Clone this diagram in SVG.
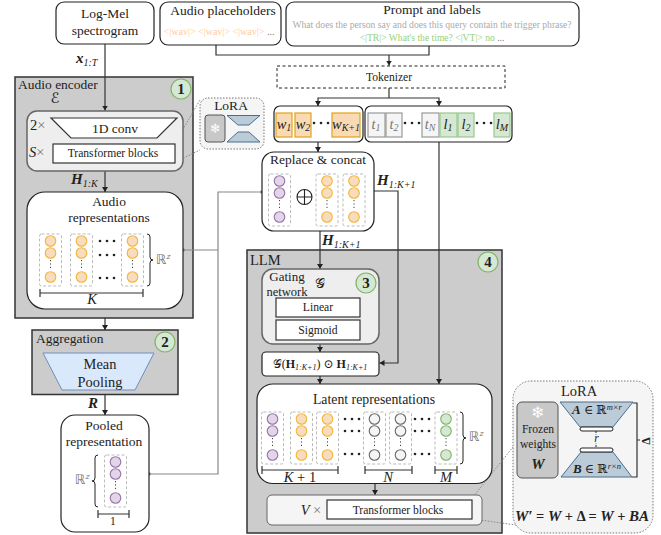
<svg xmlns="http://www.w3.org/2000/svg" width="661" height="535" viewBox="0 0 661 535">
<style>
text{font-family:"Liberation Serif","DejaVu Serif",serif;font-size:13.5px;fill:#222;text-anchor:middle}
.l{text-anchor:start}
.s{font-size:11.600px}
.sm{font-size:10px}
.bi{font-weight:bold;font-style:italic;font-size:15px}
.i{font-style:italic;font-size:14.500px}
.sub{font-size:10px;font-style:italic;font-weight:normal}
.gt{fill:#777}
.math{font-family:"DejaVu Sans",sans-serif}
.wb{fill:#fff;stroke:#222;stroke-width:1.2}
.big{fill:#ccc;stroke:#333;stroke-width:1.5}
.inner{fill:#eee;stroke:#666;stroke-width:1.5}
.rect{fill:#fff;stroke:#333;stroke-width:1.2}
.badge circle{fill:#d5e8d4;stroke:#82b366;stroke-width:1.2}
.badge text{font-weight:bold;font-size:15px}
.line{fill:none;stroke:#333;stroke-width:1.2}
.gline{fill:none;stroke:#888;stroke-width:1.2}
.arrow{marker-end:url(#a)}
.dotline{fill:none;stroke:#888;stroke-width:1;stroke-dasharray:1.500 1.500}
.cor{fill:#fad9b5;stroke:#e0a21a;stroke-width:1.2}
.cgy{fill:#f5f5f5;stroke:#999;stroke-width:1.2}
.cgr{fill:#d5e8d4;stroke:#97c98a;stroke-width:1.2}
.tr{fill:#bccbd8;stroke:#4a6f8c;stroke-width:1}
.pur{fill:#e1d5e7;stroke:#9673a6}
.ora{fill:#f8dcc0;stroke:#f2b632}
.gry{fill:#f5f5f5;stroke:#666}
.grn{fill:#d5e8d4;stroke:#82b366}
.dt{fill:#222}
.rz{font-size:13.500px}
.rz tspan{font-size:7.500px}
</style>
<defs>
<marker id="a" markerWidth="7" markerHeight="7" refX="5" refY="3" orient="auto" markerUnits="userSpaceOnUse"><path d="M0,0L5,3L0,6z" fill="#222"/></marker>
<g id="col">
<rect x="-11" y="0" width="22" height="52" rx="2" fill="none" stroke="#aaa" stroke-width="0.8" stroke-dasharray="3 2"/>
<circle cy="7" r="5.300" stroke-width="1.100"/><circle cy="19" r="5.300" stroke-width="1.100"/><circle cy="43" r="5.300" stroke-width="1.100"/>
<path d="M0,26V36" stroke="#444" fill="none" stroke-width="1" stroke-dasharray="1.200 2.200"/>
</g>
<g id="dots"><circle cx="-7" r="1.300"/><circle r="1.300"/><circle cx="7" r="1.300"/></g>
<path id="brace" d="M0,0q3,0 3,3V23q0,3 3,3q-3,0 -3,3V49q0,3 -3,3" fill="none" stroke="#222" stroke-width="1"/>
</defs>

<g id="audio-encoder">
<rect class="big" x="15" y="77" width="178" height="241"/>
<text class="l" x="18" y="89">Audio encoder</text>
<text class="math" x="55" y="103" font-style="italic" style="font-size:14.500px">ℰ</text>
<g class="badge"><circle cx="181" cy="89" r="10"/><text x="181" y="94">1</text></g>
</g>
<g id="aggregation">
<rect class="big" x="32" y="330" width="146" height="64.500"/>
<text class="l" x="36" y="343">Aggregation</text>
<g class="badge"><circle cx="165" cy="342" r="10"/><text x="165" y="347">2</text></g>
<path d="M43,353H154L135,390H62Z" fill="#dae8fc" stroke="#6c8ebf" stroke-width="1"/>
<text x="100" y="369" style="font-size:14.400px">Mean</text><text x="100" y="387" style="font-size:14.400px">Pooling</text>
</g>
<g id="llm">
<rect class="big" x="247" y="250" width="255" height="283"/>
<text class="l" x="250" y="265" style="font-size:14.500px">LLM</text>
<g class="badge"><circle cx="488" cy="262" r="10"/><text x="488" y="267">4</text></g>
</g>

<g id="connectors">
<path class="line arrow" d="M105,44V110.500"/>
<path class="line" d="M216,45V55H429V46"/>
<path class="line arrow" d="M389,55V65.500"/>
<path class="line" d="M389,88V98"/>
<path class="line arrow" d="M389,98H318V106"/>
<path class="line arrow" d="M389,98H439V106"/>
<path class="line arrow" d="M318,142V152"/>
<path class="line arrow" d="M320,231V269"/>
<path class="line arrow" d="M374,191H398V363H379.500"/>
<path class="line arrow" d="M439,142V384"/>
<path class="line arrow" d="M320,344V352"/>
<path class="line arrow" d="M320,376V384"/>
<path class="line arrow" d="M375,484V495"/>
<path class="line arrow" d="M105,171V192"/>
<path class="line arrow" d="M105,318V330"/>
<path class="line arrow" d="M105,395V415"/>
<path class="gline" d="M183,250H218M149,474H218V192H262"/>
<circle cx="183" cy="250" r="1.800" fill="#777"/><circle cx="149" cy="474" r="1.800" fill="#777"/><circle cx="262" cy="192" r="1.800" fill="#777"/>
<path class="dotline" d="M175,143L200,100M175,162L200,150M473,497L513,447M473,519L516,525"/>
<path class="line arrow" d="M537,478V491H555V506"/>
<path class="line arrow" d="M597,477V487H638V506"/>
</g>

<g id="log-mel"><rect class="wb" x="56" y="2" width="98" height="42" rx="8"/><text x="105" y="18">Log-Mel</text><text x="105" y="35">spectrogram</text></g>
<text class="bi" x="76" y="63" style="text-anchor:start">x<tspan class="sub" dy="3">1:T</tspan></text>
<g id="audio-placeholders"><rect class="wb" x="160" y="2" width="121" height="43" rx="8"/><text x="223" y="15">Audio placeholders</text>
<text x="219" y="35" class="sm" style="fill:#777"><tspan style="fill:#fc9">&lt;|wav|&gt; &lt;|wav|&gt; &lt;|wav|&gt;</tspan> ...</text></g>
<g id="prompt"><rect class="wb" x="286" y="2" width="293" height="44" rx="8"/><text x="432" y="14">Prompt and labels</text>
<text x="432" y="28" style="font-size:9.600px;fill:#aaa">What does the person say and does this query contain the trigger phrase?</text>
<text x="432" y="41" style="font-size:9.600px;fill:#777"><tspan style="fill:#97d077">&lt;|TR|&gt; What's the time? &lt;|VT|&gt; no</tspan> ...</text></g>
<g id="tokenizer"><rect x="277" y="66" width="228" height="22" fill="#fff" stroke="#222" stroke-width="1" stroke-dasharray="3 2.500"/><text x="389" y="81" class="s">Tokenizer</text></g>

<g id="conv-stack">
<rect class="inner" x="27" y="111" width="156" height="60" rx="10"/>
<path class="rect" d="M51,118H177L157,138H71Z"/>
<text x="115" y="133">1D conv</text>
<rect class="rect" x="53" y="144" width="122" height="19"/>
<text x="113" y="157" class="s">Transformer blocks</text>
<text class="l" x="30" y="130" style="font-size:14.500px">2<tspan class="gt">×</tspan></text>
<text class="l i" x="29" y="157">S<tspan class="gt" font-style="normal">×</tspan></text>
</g>
<text class="bi" x="71" y="184" style="text-anchor:start">H<tspan class="sub" dy="3">1:K</tspan></text>

<g id="audio-representations">
<rect class="wb" x="27" y="192" width="156" height="117" rx="18"/>
<text x="109" y="206">Audio</text><text x="109" y="222">representations</text>
<use href="#col" x="50.500" y="234" class="ora"/><use href="#col" x="81.500" y="234" class="ora"/><use href="#col" x="132.500" y="234" class="ora"/>
<use href="#dots" x="107" y="241" class="dt"/><use href="#dots" x="107" y="255" class="dt"/><use href="#dots" x="107" y="278" class="dt"/>
<use href="#brace" x="147" y="234"/>
<text class="math gt rz" x="163" y="264">ℝ<tspan class="sub" dy="-5">z</tspan></text>
<path class="line" d="M40,289V297M40,293H143M143,289V297"/>
<text class="i" x="92" y="304">K</text>
</g>

<text class="bi" x="93" y="408">R</text>
<g id="pooled">
<rect class="wb" x="61" y="415" width="88" height="117" rx="14"/>
<text x="104" y="430">Pooled</text><text x="104" y="446">representation</text>
<use href="#col" x="115.500" y="455" class="pur"/>
<use href="#brace" x="98" y="455" transform="translate(196,0) scale(-1,1)"/>
<text class="math gt rz" x="82" y="484">ℝ<tspan class="sub" dy="-5">z</tspan></text>
<path class="line" d="M98,510V518M98,514H129M129,510V518"/>
<text x="113" y="525" class="s">1</text>
</g>

<g id="lora-small">
<rect x="200" y="98" width="64" height="51" rx="8" fill="#f5f5f5" stroke="#777" stroke-width="1" stroke-dasharray="1.500 1.500"/>
<text x="231" y="110">LoRA</text>
<rect x="205" y="115" width="20" height="27" rx="3" fill="#c8c8c8" stroke="#555" stroke-width="1"/>
<text x="215" y="133" class="math" style="font-size:13px;fill:#fff">❄</text>
<path class="tr" d="M227,115.500H260L249,125H238Z"/><path class="tr" d="M227,142H260L249,132H238Z"/>
</g>

<g id="tokens-audio">
<rect class="wb" x="274" y="106" width="89" height="36" rx="6"/>
<rect class="cor" x="276" y="113" width="16" height="24"/><rect class="cor" x="295" y="113" width="16" height="24"/><rect class="cor" x="332" y="113" width="28" height="24"/>
<text class="i" x="284" y="129">w<tspan class="sub" dy="2" font-style="normal">1</tspan></text>
<text class="i" x="303" y="129">w<tspan class="sub" dy="2" font-style="normal">2</tspan></text>
<text class="i" x="346" y="129">w<tspan class="sub" dy="2">K+1</tspan></text>
<use href="#dots" x="321" y="123" class="dt"/>
</g>
<g id="tokens-text">
<rect class="wb" x="365" y="106" width="147" height="36" rx="6"/>
<rect class="cgy" x="368" y="113" width="17" height="24"/><rect class="cgy" x="386" y="113" width="16" height="24"/><rect class="cgy" x="422" y="113" width="17" height="24"/>
<rect class="cgr" x="440" y="113" width="17" height="24"/><rect class="cgr" x="458" y="113" width="16" height="24"/><rect class="cgr" x="494" y="113" width="16" height="24"/>
<text class="i gt" x="376" y="129">t<tspan class="sub" dy="2" font-style="normal">1</tspan></text>
<text class="i gt" x="394" y="129">t<tspan class="sub" dy="2" font-style="normal">2</tspan></text>
<text class="i gt" x="430" y="129">t<tspan class="sub" dy="2">N</tspan></text>
<text class="i" x="448" y="129">l<tspan class="sub" dy="2" font-style="normal">1</tspan></text>
<text class="i" x="466" y="129">l<tspan class="sub" dy="2" font-style="normal">2</tspan></text>
<text class="i" x="502" y="129">l<tspan class="sub" dy="2">M</tspan></text>
<use href="#dots" x="412" y="123" class="dt"/><use href="#dots" x="484" y="123" class="dt"/>
</g>

<g id="replace-concat">
<rect class="wb" x="262" y="152" width="112" height="79" rx="12"/>
<text x="318" y="164">Replace &amp; concat</text>
<use href="#col" x="279.500" y="174" class="pur"/><use href="#col" x="327" y="174" class="ora"/><use href="#col" x="354" y="174" class="ora"/>
<circle cx="304.500" cy="197" r="7.500" fill="#fff" stroke="#222" stroke-width="1.100"/><path d="M297,197H312M304.500,189.500V204.500" stroke="#222" stroke-width="1.100"/>
</g>
<text class="bi" x="377" y="185" style="text-anchor:start">H<tspan class="sub" dy="3">1:K+1</tspan></text>
<text class="bi" x="322" y="245" style="text-anchor:start">H<tspan class="sub" dy="3">1:K+1</tspan></text>

<g id="gating">
<rect class="inner" x="262" y="269" width="117" height="75" rx="11"/>
<text x="287" y="281" style="font-size:13px">Gating</text><text x="287" y="296" style="font-size:12.500px">network</text>
<text class="math" x="320" y="288" style="font-size:14px">𝒢</text>
<g class="badge"><circle cx="366" cy="283" r="10"/><text x="366" y="288">3</text></g>
<rect class="rect" x="276" y="298" width="84" height="19"/><text x="318" y="311" class="s">Linear</text>
<rect class="rect" x="276" y="320" width="84" height="20"/><text x="318" y="334" class="s">Sigmoid</text>
</g>
<g id="gating-output">
<rect class="wb" x="262" y="352" width="117" height="24" rx="4"/>
<text x="320" y="368" style="font-size:12px"><tspan class="math">𝒢</tspan>(<tspan font-weight="bold">H</tspan><tspan class="sub" dy="2" style="font-size:8px">1:K+1</tspan><tspan dy="-2">) ⊙ </tspan><tspan font-weight="bold">H</tspan><tspan class="sub" dy="2" style="font-size:8px">1:K+1</tspan></text>
</g>

<g id="latent">
<rect class="wb" x="257" y="384" width="235" height="99.500" rx="16"/>
<text x="374" y="404" style="font-size:13.800px">Latent representations</text>
<use href="#col" x="272.500" y="412" class="pur"/><use href="#col" x="301.500" y="412" class="ora"/><use href="#col" x="327.500" y="412" class="ora"/>
<use href="#col" x="374.500" y="412" class="gry"/><use href="#col" x="400.500" y="412" class="gry"/><use href="#col" x="446" y="412" class="grn"/>
<use href="#dots" x="352" y="419" class="dt"/><use href="#dots" x="352" y="431" class="dt"/><use href="#dots" x="352" y="454" class="dt"/>
<use href="#dots" x="422" y="419" class="dt"/><use href="#dots" x="422" y="431" class="dt"/><use href="#dots" x="422" y="454" class="dt"/>
<use href="#brace" x="460" y="412"/>
<text class="math gt rz" x="476" y="441">ℝ<tspan class="sub" dy="-5">z</tspan></text>
<path class="line" d="M262,466V474M262,470H338M338,466V474M365,466V474M365,470H412M412,466V474M435,466V474M435,470H457M457,466V474"/>
<text class="i" x="300" y="482">K <tspan font-style="normal">+ 1</tspan></text>
<text class="i" x="388" y="482">N</text><text class="i" x="446" y="482">M</text>
</g>
<g id="transformer-v">
<rect x="267" y="495" width="215" height="30" rx="5" fill="#f5f5f5" stroke="#666" stroke-width="1"/>
<rect class="rect" x="327" y="500" width="145" height="19"/>
<text x="398" y="514" class="s">Transformer blocks</text>
<text class="i" x="311" y="515">V <tspan class="gt" font-style="normal">×</tspan></text>
</g>

<g id="lora-big">
<rect x="513" y="381" width="140" height="152" rx="18" fill="#f5f5f5" stroke="#777" stroke-width="1" stroke-dasharray="1.500 1.500"/>
<text x="579" y="396" style="font-size:14.500px">LoRA</text>
<rect x="517" y="402" width="41" height="76" rx="5" fill="#c8c8c8" stroke="#555" stroke-width="1"/>
<text x="538" y="418" class="math" style="font-size:16px;fill:#fff">❄</text>
<text x="538" y="433" class="s">Frozen</text><text x="538" y="448" class="s">weights</text>
<text x="538" y="469" class="bi">W</text>
<path class="tr" d="M560,402H633L613,427H580Z"/>
<path class="tr" d="M561,477H632L613,452H581Z"/>
<rect x="580" y="427" width="33" height="4" rx="2" fill="#fff" stroke="#222"/>
<rect x="580" y="448" width="33" height="4" rx="2" fill="#fff" stroke="#222"/>
<text x="597" y="414" style="font-size:12.500px"><tspan class="bi" style="font-size:13px">A</tspan> ∈ ℝ<tspan class="sub" dy="-4" style="font-size:8.500px">m×r</tspan></text>
<text x="597" y="473" style="font-size:12.500px"><tspan class="bi" style="font-size:13px">B</tspan> ∈ ℝ<tspan class="sub" dy="-4" style="font-size:8.500px">r×n</tspan></text>
<path d="M596,431V448" stroke="#222" stroke-dasharray="2 1.500" fill="none"/>
<rect x="592" y="435" width="8" height="8" fill="#f5f5f5"/>
<text x="596.500" y="442" class="i" style="font-size:11.600px">r</text>
<path class="line" d="M633,403H637V477H632M637,440H640"/>
<text x="645.500" y="441" transform="rotate(-90 645.500 441)" font-weight="bold" style="font-size:12px" dominant-baseline="central">Δ</text>
<text x="582" y="521" style="font-size:14.400px" font-weight="bold"><tspan class="bi">W′</tspan> = <tspan class="bi">W</tspan> + Δ = <tspan class="bi">W</tspan> + <tspan class="bi">BA</tspan></text>
</g>
</svg>
